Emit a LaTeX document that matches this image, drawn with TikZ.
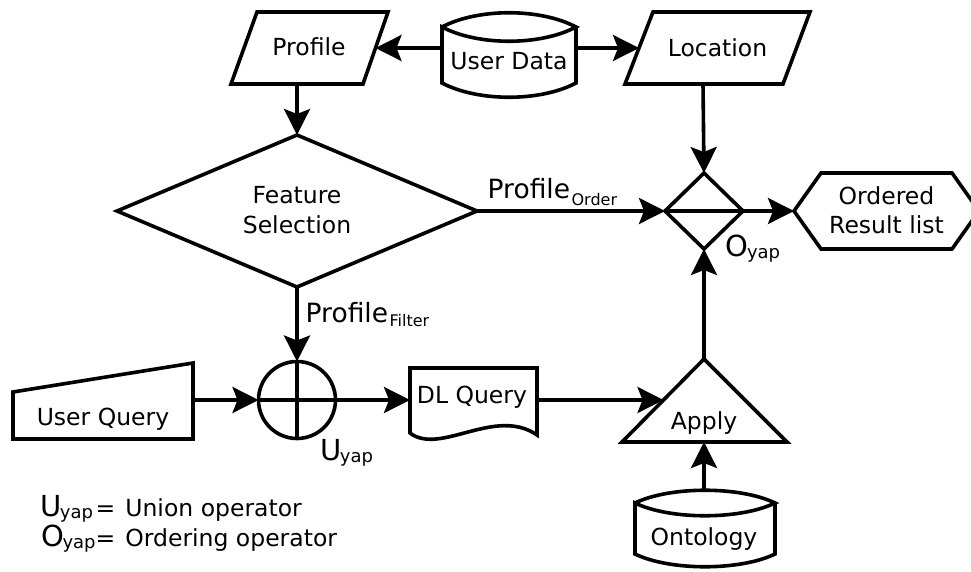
\documentclass[tikz,border=0pt]{standalone}
\usepackage{fontspec}
\setmainfont{DejaVu Sans}
\usetikzlibrary{arrows.meta}
\newcommand\mainfs{\fontsize{23.5}{30}\selectfont}
\newcommand\resfs{\fontsize{23.5}{29}\selectfont}
\newcommand\labfs{\fontsize{26.5}{30}\selectfont}
\newcommand\subfs{\fontsize{16}{18}\selectfont}
\newcommand\bigfs{\fontsize{29}{32}\selectfont}
\newcommand\yapfs{\fontsize{18}{20}\selectfont}
\tikzset{
  shp/.style={draw=black, line width=3.6pt, line join=miter},
  arr/.style={draw=black, line width=3.6pt, -{Stealth[length=26pt,width=26pt,inset=5pt]}},
  txt/.style={inner sep=0pt, font=\mainfs, text=black},
  lbl/.style={inner sep=0pt, text=black, anchor=base west},
}
\begin{document}
\begin{tikzpicture}[x=1pt,y=-1pt]
\fill[white] (0,0) rectangle (971,572);
\clip (0,0) rectangle (971,572);

% Profile
\draw[shp] (257,12) -- (388,12) -- (363,84) -- (231,84) -- cycle;
\node[txt, anchor=base] (profile) at (309,56) {Profile};
\coordinate (profile-e) at (375.5,48);
\coordinate (profile-s) at (297,84);

% User Data
\draw[shp] (442,27) .. controls (478,8) and (540,8) .. (576,27)
  .. controls (540,46) and (478,46) .. (442,27) -- (442,83)
  .. controls (478,102) and (540,102) .. (576,83) -- (576,27);
\node[txt, anchor=base] (userdata) at (509,70) {User Data};
\coordinate (userdata-w) at (442,48);
\coordinate (userdata-e) at (576,48);

% Location
\draw[shp] (653,12) -- (810,12) -- (783,84) -- (625,84) -- cycle;
\node[txt, anchor=base] (location) at (717.5,56.5) {Location};
\coordinate (location-w) at (639,48);
\coordinate (location-s) at (703,84);

% Feature Selection
\draw[shp] (117,211) -- (297,135) -- (477,211) -- (297,287) -- cycle;
\node[txt, align=center] (feature) at (297,210.5) {Feature\\Selection};
\coordinate (feat-n) at (297,135);
\coordinate (feat-e) at (477,211);
\coordinate (feat-s) at (297,287);

% Ordering operator
\coordinate (ord-w) at (665,211);
\coordinate (ord-n) at (704,173);
\coordinate (ord-e) at (743,211);
\coordinate (ord-s) at (704,249);
\draw[shp] (ord-w) -- (ord-n) -- (ord-e) -- (ord-s) -- cycle;
\draw[shp] (ord-w) -- (ord-e);

% Ordered result list
\draw[shp] (794,211) -- (821,173) -- (952,173) -- (979,211) -- (952,249) -- (821,249) -- cycle;
\node[txt, font=\resfs, align=center] (result) at (886.5,210) {Ordered\\Result list};
\coordinate (result-w) at (794,211);

% Union operator
\coordinate (uni-n) at (297,361.5);
\coordinate (uni-s) at (297,438.5);
\coordinate (uni-w) at (258.5,400);
\coordinate (uni-e) at (335.5,400);
\draw[shp] (297,400) circle[radius=38.5];
\draw[shp] (uni-n) -- (uni-s);
\draw[shp] (uni-w) -- (uni-e);

% User Query
\draw[shp] (13,392) -- (193,363) -- (193,439) -- (13,439) -- cycle;
\node[txt, anchor=base] (userquery) at (103,425) {User Query};
\coordinate (uq-e) at (193,400);

% DL Query
\draw[shp] (410,368) -- (537,368) -- (537,435)
  .. controls (495,406) and (440,456) .. (410,433) -- cycle;
\node[txt, anchor=base] (dlquery) at (472,403) {DL Query};
\coordinate (dl-w) at (410,400);
\coordinate (dl-e) at (537,400);

% Apply
\draw[shp] (704,359) -- (787,442) -- (622,442) -- cycle;
\node[txt, anchor=base] (apply) at (704,429) {Apply};
\coordinate (apply-n) at (704,359);
\coordinate (apply-w) at (663.5,400);
\coordinate (apply-s) at (704,442);

% Ontology
\draw[shp] (635,503) .. controls (670,486) and (740,486) .. (775,503)
  .. controls (740,520) and (670,520) .. (635,503) -- (635,554)
  .. controls (670,571) and (740,571) .. (775,554) -- (775,503);
\node[txt, anchor=base] (ontology) at (704,545) {Ontology};
\coordinate (onto-n) at (704,490);

% Connectors
\draw[arr] (userdata-w) -- (profile-e);
\draw[arr] (userdata-e) -- (location-w);
\draw[arr] (profile-s) -- (feat-n);
\draw[arr] (location-s) -- (ord-n);
\draw[arr] (feat-e) -- (ord-w);
\draw[arr] (ord-e) -- (result-w);
\draw[arr] (feat-s) -- (uni-n);
\draw[arr] (uq-e) -- (uni-w);
\draw[arr] (uni-e) -- (dl-w);
\draw[arr] (dl-e) -- (apply-w);
\draw[arr] (apply-n) -- (ord-s);
\draw[arr] (onto-n) -- (apply-s);

% Labels
\node[lbl] (lblorder) at (487.5,198) {{\labfs Profile}\kern1.5pt\raisebox{-7pt}{\subfs Order}};
\node[lbl] (lblfilter) at (305.5,322) {{\labfs Profile}\kern1.5pt\raisebox{-4pt}{\subfs Filter}};
\node[lbl] (lblU) at (320.5,460) {{\bigfs U}\kern-2pt\raisebox{-2pt}{\yapfs yap}};
\node[lbl] (lblO) at (725.5,256) {{\bigfs O}\kern-1.5pt\raisebox{-2pt}{\yapfs yap}};

% Legend
\node[lbl] (legU) at (40.5,516) {\makebox[55pt][l]{{\bigfs U}\kern-2pt\raisebox{-2pt}{\yapfs yap}}{\mainfs =\kern10pt Union operator}};
\node[lbl] (legO) at (41,546) {\makebox[54.5pt][l]{{\bigfs O}\kern-1.5pt\raisebox{-2pt}{\yapfs yap}}{\mainfs =\kern10pt Ordering operator}};
\end{tikzpicture}
\end{document}
